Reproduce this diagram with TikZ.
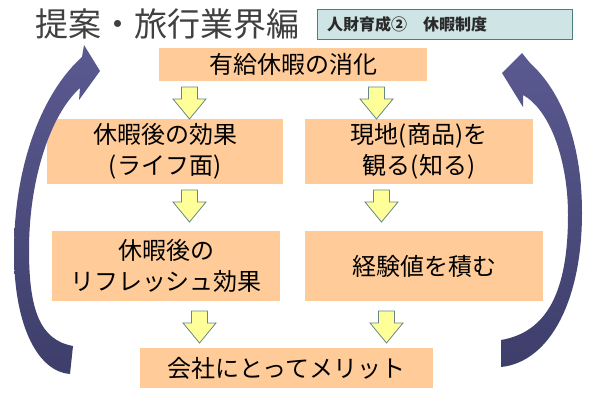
\documentclass[tikz,border=0pt]{standalone}
\usepackage{fontspec}
\setmainfont{Noto Sans CJK JP}
\definecolor{boxfill}{HTML}{FFCC99}
\definecolor{arrfill}{HTML}{FFFF99}
\definecolor{arrline}{HTML}{678787}
\definecolor{labfill}{HTML}{CFE4E4}
\definecolor{labline}{HTML}{4E7E82}
\definecolor{labtext}{HTML}{2A2A2A}
\definecolor{titlegray}{HTML}{404040}
\definecolor{cTop}{HTML}{5A5A91}
\definecolor{cBot}{HTML}{3E3E6B}
\begin{document}
\begin{tikzpicture}[x=1pt,y=-1pt,
  box/.style={fill=boxfill, draw=none, inner sep=0pt, align=center,
    font=\fontsize{24}{31}\selectfont, text=black},
  barrow/.style={fill=arrfill, draw=arrline, line width=0.8pt, line join=miter},
  curvarrow/.style={top color=cTop, bottom color=cBot, draw=none},
  downarr/.pic={\path[barrow] (-8,0) -- (8,0) -- (8,12) -- (16.5,12) -- (0,32)
      -- (-16.5,12) -- (-8,12) -- cycle;}]
\useasboundingbox (0,0) rectangle (600,401);
\fill[white] (0,0) rectangle (600,401);

% title and label
\node[anchor=west, font=\fontsize{33}{36}\selectfont, text=titlegray, inner sep=0pt]
  (title) at (35,24) {提案・旅行業界編};
\node[draw=labline, fill=labfill, line width=0.8pt, minimum width=255,
  minimum height=30, inner sep=0pt] (label) at (444.5,24) {};
\node[anchor=west, font=\bfseries\fontsize{16}{18}\selectfont, text=labtext,
  inner sep=0pt] (labeltext) at (327,24) {人財育成②　休暇制度};

% boxes
\node[box, minimum width=268, minimum height=33] (n1) at (293,64.5) {有給休暇の消化};
\node[box, minimum width=236, minimum height=65] (n2l) at (165,151.5) {休暇後の効果\\(ライフ面)};
\node[box, minimum width=228, minimum height=65] (n2r) at (419,151.5) {現地(商品)を\\観る(知る)};
\node[box, minimum width=228, minimum height=70] (n3l) at (166,266) {休暇後の\\リフレッシュ効果};
\node[box, minimum width=238, minimum height=70] (n3r) at (424,266) {経験値を積む};
\node[box, minimum width=293, minimum height=40] (n4) at (286.5,368) {会社にとってメリット};

% block arrows
\pic (a1l) at (189.5,87) {downarr};
\pic (a1r) at (376.5,87) {downarr};
\pic (a2l) at (189.5,190) {downarr};
\pic (a2r) at (381.5,190) {downarr};
\pic (a3l) at (199.5,311) {downarr};
\pic (a3r) at (386.5,311) {downarr};

% curved arrows
\path[curvarrow] (70,374) .. controls (40,372) and (14,330) .. (14,252)
  .. controls (14,160) and (45,90) .. (82,57) -- (84,45) -- (100,71) -- (79,100)
  -- (80,88) .. controls (50,115) and (29,180) .. (29,250)
  .. controls (29,310) and (40,340) .. (73,346) -- cycle;
\path[curvarrow] (501,367) .. controls (550,362) and (582,300) .. (582,213)
  .. controls (582,140) and (560,90) .. (530,63) -- (522,53) -- (502,73) -- (523,107)
  -- (523,95) .. controls (550,110) and (568,160) .. (568,215)
  .. controls (568,290) and (548,332) .. (501,340) -- cycle;
\end{tikzpicture}
\end{document}
